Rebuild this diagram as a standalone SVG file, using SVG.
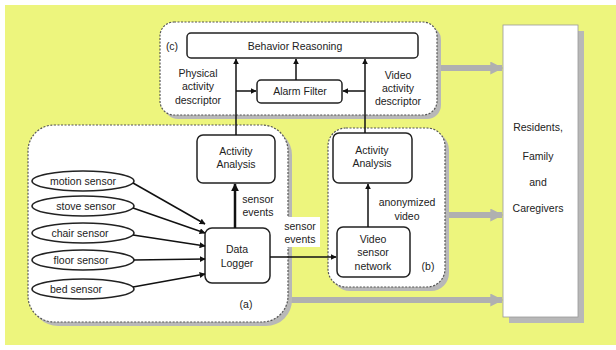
<svg xmlns="http://www.w3.org/2000/svg" width="616" height="350" viewBox="0 0 616 350">
<defs>
<style>
text{font-family:"Liberation Sans",Arial,sans-serif;font-size:10.5px;fill:#222;text-anchor:middle}
.cont{fill:#fff;stroke:#555;stroke-width:1.2;stroke-dasharray:2 1.5}
.shadow{fill:#b8b8b8}
.box{fill:#fff;stroke:#222;stroke-width:1.5}
.ell{fill:#fff;stroke:#222;stroke-width:1.5}
.ln{stroke:#111;stroke-width:1.5;fill:none}
.thick{stroke:#111;stroke-width:2.5;fill:none}
.gray{stroke:#b0b0b0;stroke-width:6;fill:none}
</style>
<marker id="ah" viewBox="0 0 10 10" refX="9" refY="5" markerWidth="6" markerHeight="6" orient="auto" markerUnits="userSpaceOnUse"><path d="M0,0 L10,5 L0,10 z" fill="#111"/></marker>
<marker id="ahs" viewBox="0 0 10 10" refX="9" refY="5" markerWidth="8" markerHeight="8" orient="auto" markerUnits="userSpaceOnUse"><path d="M0,0 L10,5 L0,10 z" fill="#111"/></marker>
<marker id="ag" viewBox="0 0 10 10" refX="9" refY="5" markerWidth="14" markerHeight="13" orient="auto" markerUnits="userSpaceOnUse"><path d="M0,0 L10,5 L0,10 z" fill="#b0b0b0"/></marker>
</defs>
<rect x="0" y="0" width="616" height="350" fill="#fff"/>
<rect x="5" y="5" width="611" height="340" fill="#edf57d"/>

<g id="connectors-gray">
<path class="gray" d="M437,68 H502" marker-end="url(#ag)"/>
<path class="gray" d="M445,215 H502" marker-end="url(#ag)"/>
<path class="gray" d="M290,300 H502" marker-end="url(#ag)"/>
</g>

<g id="container-c">
<rect class="shadow" x="164" y="26" width="277" height="93" rx="14"/>
<rect class="cont" x="160" y="22" width="277" height="93" rx="14"/>
<text x="172" y="50" font-size="9.5">(c)</text>
</g>
<g id="container-a">
<rect class="shadow" x="32" y="129" width="260" height="197" rx="26"/>
<rect class="cont" x="28" y="125" width="260" height="197" rx="26"/>
<text x="246" y="308" font-size="9.5">(a)</text>
</g>
<g id="container-b">
<rect class="shadow" x="332" y="132" width="117" height="159" rx="18"/>
<rect class="cont" x="328" y="128" width="117" height="159" rx="18"/>
<text x="428" y="270" font-size="9.5">(b)</text>
</g>

<g id="residents">
<rect class="shadow" x="509" y="31" width="75" height="292"/>
<rect x="503" y="25" width="75" height="292" fill="#fff" stroke="#999" stroke-width="0.8"/>
<text x="538" y="131">Residents,</text>
<text x="538" y="160">Family</text>
<text x="538" y="186">and</text>
<text x="538" y="212">Caregivers</text>
</g>

<g id="behavior-reasoning">
<rect class="box" x="187" y="33" width="231" height="25" rx="4"/>
<text x="295" y="50" font-size="13">Behavior Reasoning</text>
</g>
<g id="alarm-filter">
<rect class="box" x="257" y="80" width="85" height="23" rx="4"/>
<text x="300" y="95">Alarm Filter</text>
</g>
<g id="activity-analysis-a">
<rect class="box" x="197" y="135" width="78" height="48" rx="6"/>
<text x="236" y="155">Activity</text>
<text x="236" y="168">Analysis</text>
</g>
<g id="activity-analysis-b">
<rect class="box" x="333" y="133" width="79" height="50" rx="6"/>
<text x="372" y="154">Activity</text>
<text x="372" y="167">Analysis</text>
</g>
<g id="data-logger">
<rect class="box" x="205" y="228" width="65" height="55" rx="7"/>
<text x="237" y="253">Data</text>
<text x="237" y="267">Logger</text>
</g>
<g id="video-sensor-network">
<rect class="box" x="337" y="227" width="73" height="50" rx="6"/>
<text x="373" y="243">Video</text>
<text x="373" y="256">sensor</text>
<text x="373" y="270">network</text>
</g>

<g id="motion-sensor"><ellipse class="ell" cx="83" cy="181" rx="51" ry="10"/><text x="83" y="185">motion sensor</text></g>
<g id="stove-sensor"><ellipse class="ell" cx="83" cy="206" rx="51" ry="10"/><text x="86" y="210">stove sensor</text></g>
<g id="chair-sensor"><ellipse class="ell" cx="83" cy="233" rx="51" ry="10"/><text x="80" y="237">chair sensor</text></g>
<g id="floor-sensor"><ellipse class="ell" cx="83" cy="260" rx="51" ry="10"/><text x="81" y="264">floor sensor</text></g>
<g id="bed-sensor"><ellipse class="ell" cx="83" cy="289" rx="51" ry="10"/><text x="76" y="293">bed sensor</text></g>

<g id="connectors">
<path class="ln" d="M133,183 L205,224" marker-end="url(#ah)"/>
<path class="ln" d="M133,208 L205,233" marker-end="url(#ah)"/>
<path class="ln" d="M133,235 L205,246" marker-end="url(#ah)"/>
<path class="ln" d="M134,260 L205,259" marker-end="url(#ah)"/>
<path class="ln" d="M133,287 L205,274" marker-end="url(#ah)"/>
<path class="thick" d="M235,228 V184" marker-end="url(#ahs)"/>
<path class="ln" d="M236,135 V59" marker-end="url(#ah)"/>
<path class="ln" d="M365,133 V59" marker-end="url(#ah)"/>
<path class="ln" d="M296,80 V59" marker-end="url(#ah)"/>
<path class="ln" d="M236,91 H256" marker-end="url(#ah)"/>
<path class="ln" d="M365,91 H343" marker-end="url(#ah)"/>
<path class="ln" d="M368,227 V184" marker-end="url(#ah)"/>
<rect x="280" y="217" width="40" height="30" fill="#fff"/>
<path class="ln" d="M270,257 H336" marker-end="url(#ah)"/>
</g>

<g id="labels">
<text x="198" y="77">Physical</text>
<text x="198" y="90">activity</text>
<text x="198" y="104">descriptor</text>
<text x="398" y="79">Video</text>
<text x="398" y="92">activity</text>
<text x="398" y="105">descriptor</text>
<text x="258" y="203">sensor</text>
<text x="258" y="216">events</text>
<text x="300" y="230">sensor</text>
<text x="300" y="243">events</text>
<text x="407" y="206">anonymized</text>
<text x="407" y="220">video</text>
</g>
</svg>
